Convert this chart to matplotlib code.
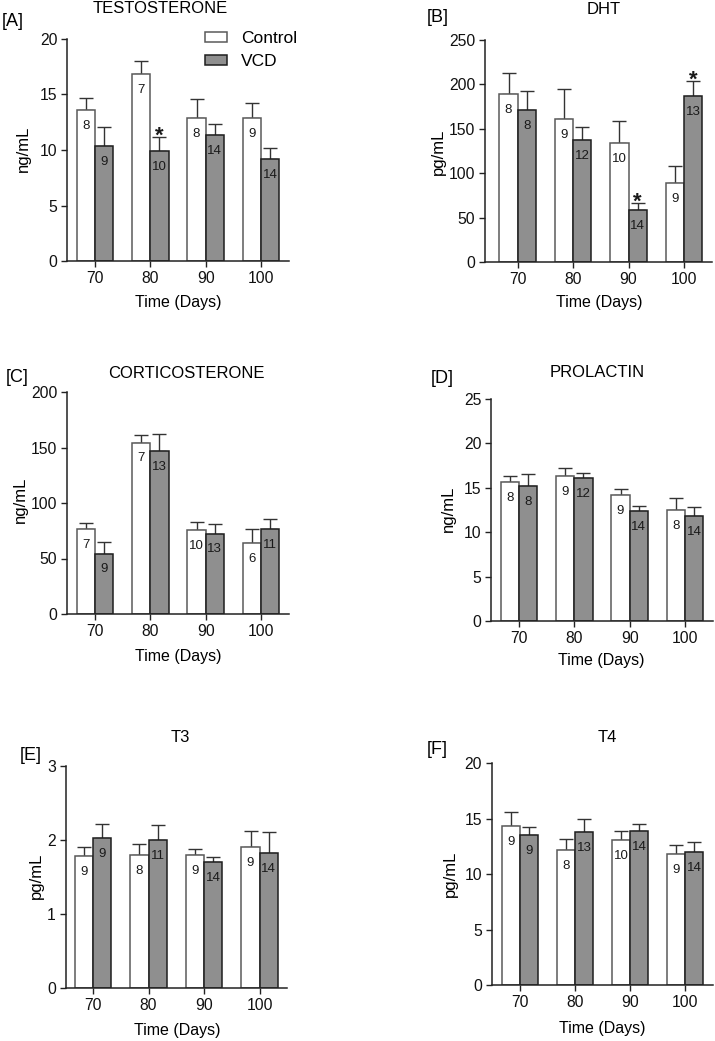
import matplotlib
matplotlib.use("Agg")
import matplotlib.pyplot as plt
import numpy as np

plt.rcParams['font.family'] = ['Liberation Sans', 'DejaVu Sans']

days = [70, 80, 90, 100]
groups = ["Control", "VCD"]

# Panel A - Testosterone (ng/mL)
testo_ctrl = [13.6, 16.85, 12.9, 12.9]
testo_ctrl_err = [1.1, 1.15, 1.7, 1.3]
testo_vcd = [10.4, 9.9, 11.35, 9.15]
testo_vcd_err = [1.7, 1.25, 0.95, 1.05]
testo_n_ctrl = [8, 7, 8, 9]
testo_n_vcd = [9, 10, 14, 14]
testo_sig = [False, True, False, False]

# Panel B - DHT (pg/mL)
dht_ctrl = [189, 161, 134, 89]
dht_ctrl_err = [23.5, 34, 24.5, 19.5]
dht_vcd = [171, 137, 59, 186.5]
dht_vcd_err = [22, 14.5, 7, 17]
dht_n_ctrl = [8, 9, 10, 9]
dht_n_vcd = [8, 12, 14, 13]
dht_sig = [False, False, True, True]

# Panel C - Corticosterone (ng/mL)
cort_ctrl = [77, 154.5, 75.5, 64]
cort_ctrl_err = [5, 6.5, 7.5, 12.3]
cort_vcd = [54.5, 146.5, 72.5, 77]
cort_vcd_err = [10, 16, 8.3, 8.2]
cort_n_ctrl = [7, 7, 10, 6]
cort_n_vcd = [9, 13, 13, 11]
cort_sig = [False, False, False, False]

# Panel D - Prolactin (ng/mL)
prl_ctrl = [15.6, 16.3, 14.2, 12.5]
prl_ctrl_err = [0.75, 0.9, 0.65, 1.3]
prl_vcd = [15.15, 16.05, 12.4, 11.85]
prl_vcd_err = [1.35, 0.65, 0.6, 0.95]
prl_n_ctrl = [8, 9, 9, 8]
prl_n_vcd = [8, 12, 14, 14]
prl_sig = [False, False, False, False]

# Panel E - T3 (pg/mL)
t3_ctrl = [1.78, 1.795, 1.80, 1.91]
t3_ctrl_err = [0.13, 0.15, 0.085, 0.205]
t3_vcd = [2.03, 2.0, 1.70, 1.83]
t3_vcd_err = [0.185, 0.205, 0.075, 0.275]
t3_n_ctrl = [9, 8, 9, 9]
t3_n_vcd = [9, 11, 14, 14]
t3_sig = [False, False, False, False]

# Panel F - T4 (pg/mL)
t4_ctrl = [14.3, 12.2, 13.05, 11.8]
t4_ctrl_err = [1.3, 0.95, 0.85, 0.8]
t4_vcd = [13.5, 13.75, 13.85, 11.95]
t4_vcd_err = [0.75, 1.25, 0.65, 0.95]
t4_n_ctrl = [9, 8, 10, 9]
t4_n_vcd = [9, 13, 14, 14]
t4_sig = [False, False, False, False]

W, H = 715, 1041
fig = plt.figure(figsize=(W / 100, H / 100), dpi=100)

CTRL_FACE = "white"
CTRL_EDGE = "#5a5a5a"
VCD_FACE = "#8f8f8f"
VCD_EDGE = "#1e1e1e"
ERR_COL = "#333333"


def fx(px):
    return px / W


def fy(py):
    return 1 - py / H


def panel(box, centers, ctrl, ctrl_err, vcd, vcd_err, n_ctrl, n_vcd, sig,
          ymax, ystep, title, title_xy, letter, letter_xy, ylabel, ylabel_xy,
          xlabel_xy, legend=False):
    left, right, top, bottom = box
    c0, c3 = centers
    ax = fig.add_axes([fx(left), fy(bottom), fx(right) - fx(left), fy(top) - fy(bottom)])
    sp = (c3 - c0) / 3
    ax.set_xlim((left - c0) / sp, 3 + (right - c3) / sp)
    ax.set_ylim(0, ymax)
    x = np.arange(len(days))
    bw = 0.33
    b1 = ax.bar(x - bw / 2, ctrl, bw, color=CTRL_FACE, edgecolor=CTRL_EDGE, linewidth=1.1,
                label=groups[0], zorder=2)
    b2 = ax.bar(x + bw / 2, vcd, bw, color=VCD_FACE, edgecolor=VCD_EDGE, linewidth=1.1,
                label=groups[1], zorder=2)
    ax.errorbar(x - bw / 2, ctrl, yerr=[np.zeros(4), ctrl_err], fmt='none', ecolor=ERR_COL,
                elinewidth=1.0, capsize=5, capthick=1.0, zorder=1)
    ax.errorbar(x + bw / 2, vcd, yerr=[np.zeros(4), vcd_err], fmt='none', ecolor=ERR_COL,
                elinewidth=1.0, capsize=5, capthick=1.0, zorder=1)
    for i in range(4):
        ax.annotate(str(n_ctrl[i]), (x[i] - bw / 2, ctrl[i]), xytext=(0, -11.5),
                    textcoords='offset points', ha='center', va='center', fontsize=9.5,
                    color="#1a1a1a", zorder=3)
        ax.annotate(str(n_vcd[i]), (x[i] + bw / 2, vcd[i]), xytext=(0, -11.5),
                    textcoords='offset points', ha='center', va='center', fontsize=9.5,
                    color="#1a1a1a", zorder=3)
        if sig[i]:
            ax.annotate("*", (x[i] + bw / 2, vcd[i] + vcd_err[i]), xytext=(0, -3),
                        textcoords='offset points', ha='center', va='baseline',
                        fontsize=16, fontweight='bold', color="#1a1a1a")
    ax.set_xticks(x)
    ax.set_xticklabels([str(d) for d in days])
    ax.set_yticks(np.arange(0, ymax + ystep / 2, ystep))
    for s in ['top', 'right']:
        ax.spines[s].set_visible(False)
    for s in ['left', 'bottom']:
        ax.spines[s].set_linewidth(1.1)
        ax.spines[s].set_color("#222222")
    ax.tick_params(axis='both', labelsize=11.3, length=4, width=1.0, pad=3, colors="#222222",
                   labelcolor="#111111")
    ax.set_facecolor('none')
    fig.text(fx(title_xy[0]), fy(title_xy[1]), title, ha='center', va='center', fontsize=12)
    fig.text(fx(letter_xy[0]), fy(letter_xy[1]), letter, ha='center', va='center', fontsize=13)
    fig.text(fx(ylabel_xy[0]), fy(ylabel_xy[1]), ylabel, ha='center', va='center',
             fontsize=12, rotation=90)
    fig.text(fx(xlabel_xy[0]), fy(xlabel_xy[1]), "Time (Days)", ha='center', va='center',
             fontsize=11.5)
    if legend:
        ax.legend(handles=[b1, b2], loc='upper left',
                  bbox_to_anchor=((205 - left) / (right - left), (bottom - 31) / (bottom - top)),
                  frameon=False, fontsize=12.5, handlelength=1.27, handleheight=0.57,
                  handletextpad=0.8, labelspacing=0.47, borderpad=0, borderaxespad=0)
    return ax


panel((67, 289, 39, 261), (95, 261), testo_ctrl, testo_ctrl_err, testo_vcd, testo_vcd_err,
      testo_n_ctrl, testo_n_vcd, testo_sig, 20, 5, "TESTOSTERONE", (160.5, 8.5), "[A]", (12.5, 21),
      "ng/mL", (23, 149), (178, 303), legend=True)
panel((485, 712, 40, 262), (517.7, 684), dht_ctrl, dht_ctrl_err, dht_vcd, dht_vcd_err,
      dht_n_ctrl, dht_n_vcd, dht_sig, 250, 50, "DHT", (604, 9.5), "[B]", (438, 17),
      "pg/mL", (438, 152), (599, 302))
panel((67, 289, 392, 614), (95, 261), cort_ctrl, cort_ctrl_err, cort_vcd, cort_vcd_err,
      cort_n_ctrl, cort_n_vcd, cort_sig, 200, 50, "CORTICOSTERONE", (186, 373.5), "[C]", (17, 377),
      "ng/mL", (20, 500), (178, 656))
panel((491, 713, 399, 621), (519, 685), prl_ctrl, prl_ctrl_err, prl_vcd, prl_vcd_err,
      prl_n_ctrl, prl_n_vcd, prl_sig, 25, 5, "PROLACTIN", (597, 372.5), "[D]", (442.5, 378.5),
      "ng/mL", (448, 509), (601, 661))
panel((65.7, 287, 766, 988), (93, 259.7), t3_ctrl, t3_ctrl_err, t3_vcd, t3_vcd_err,
      t3_n_ctrl, t3_n_vcd, t3_sig, 3, 1, "T3", (180, 737.5), "[E]", (31, 755.5),
      "pg/mL", (36.7, 876), (177, 1030.5))
panel((491.7, 713, 763, 985.3), (520, 685), t4_ctrl, t4_ctrl_err, t4_vcd, t4_vcd_err,
      t4_n_ctrl, t4_n_vcd, t4_sig, 20, 5, "T4", (607, 737.8), "[F]", (437, 749),
      "pg/mL", (450, 874), (602.5, 1029))

fig.savefig("out.png", dpi=100)
